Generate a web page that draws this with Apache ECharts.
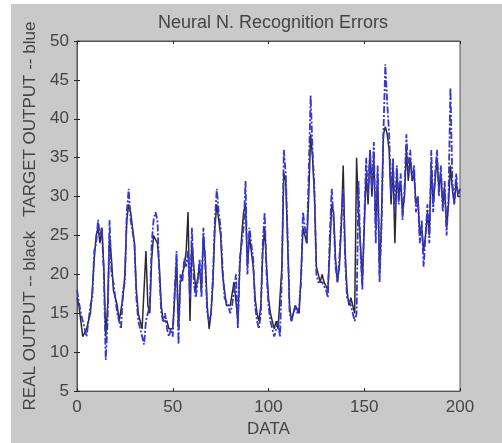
<!DOCTYPE html>
<html>
<head>
<meta charset="utf-8">
<script src="https://cdn.jsdelivr.net/npm/echarts@6/dist/echarts.min.js"></script>
<style>
html,body{margin:0;padding:0;background:#ffffff;width:502px;height:443px;overflow:hidden;}
#c{position:absolute;left:11px;top:4px;width:491px;height:439px;}
</style>
</head>
<body>
<div id="c"></div>
<script>
// Target output (blue, dash-dot), index 0..200
var targetOutput = [18,18,15,15,13,12,14,16,17,23,24,27,25,26,20,9,14,27,20,19,
17,15,14,13,18,19,28,31,27,27,24,17,14,13,13,11,14,15,16,24,
27,28,27,20,15,14,15,13,12,13,12,18,23,11,20,19,22,21,23,17,
26,19,17,19,22,17,26,21,15,14,15,20,27,31,28,26,21,17,17,16,
15,16,18,20,13,22,24,26,32,20,26,26,22,16,14,13,15,24,28,20,
16,14,13,12,13,14,12,20,36,33,25,15,14,15,16,15,16,19,28,26,
24,33,43,36,31,20,19,19,19,19,18,17,25,31,27,21,19,22,27,31,
22,17,17,16,15,14,15,32,23,18,27,35,30,36,31,37,24,34,19,26,
38,47,42,38,30,35,28,34,29,33,27,31,38,33,36,32,34,28,30,24,
27,21,25,29,24,36,28,33,36,30,34,28,32,25,30,44,32,29,33,30,31];
// Real output (black, solid), index 0..200
var realOutput = [17,16,14,12,12,13,13,15,18,22,25,26,24,26,21,12,16,25,22,18,
17,16,14,14,17,20,27,29,28,26,24,18,15,14,13,13,23,16,15,22,
25,25,24,21,16,14,14,14,13,13,13,17,22,13,19,20,21,23,28,14,
24,21,18,18,21,18,25,22,16,13,15,19,26,29,27,25,20,18,16,16,
16,16,19,19,14,21,25,28,29,21,25,25,21,17,15,14,16,23,26,21,
17,15,14,13,14,13,13,21,33,32,24,16,14,15,16,16,15,20,26,25,
24,30,38,35,30,21,20,19,20,19,19,18,23,29,28,22,19,21,26,34,
23,18,16,17,16,15,35,28,24,19,26,33,29,36,30,35,26,33,20,27,
38,39,38,36,29,34,24,33,30,32,28,30,36,32,35,32,33,29,30,25,
26,23,25,28,25,34,29,32,35,31,33,29,31,26,29,34,31,29,32,30,30];
var xTicks = [0, 50, 100, 150, 200];
var yTicks = [5, 10, 15, 20, 25, 30, 35, 40, 45, 50];

function pairs(arr){ return arr.map(function(v,i){ return [i, v]; }); }

var chart = echarts.init(document.getElementById('c'), null, {renderer:'canvas'});
var font = 'Liberation Sans, Arial, sans-serif';
var axisCol = '#555555';
var txtCol = '#444444';
chart.setOption({
  backgroundColor: '#c9c9c9',
  animation: false,
  title: {
    text: 'Neural N. Recognition Errors',
    left: 257, top: 5, textAlign: 'center',
    textStyle: {fontFamily: font, fontSize: 18, fontWeight: 'normal', color: txtCol}
  },
  grid: {left: 66, right: 42, top: 37, bottom: 49, show: true, backgroundColor: '#ffffff', borderColor: axisCol, borderWidth: 1},
  xAxis: [{
    type: 'value', min: xTicks[0], max: xTicks[xTicks.length-1], interval: 50,
    name: 'DATA', nameLocation: 'middle', nameGap: 29,
    nameTextStyle: {fontFamily: font, fontSize: 17, color: txtCol},
    axisLine: {show: true, lineStyle: {color: axisCol}},
    axisTick: {show: true, inside: true, length: 3, lineStyle: {color: '#222'}},
    axisLabel: {fontFamily: font, fontSize: 17, color: txtCol, margin: 8},
    splitLine: {show: false}
  },{
    type: 'value', position: 'top', min: 0, max: 200, interval: 50,
    axisLine: {show: true, lineStyle: {color: axisCol}},
    axisTick: {show: true, inside: true, length: 3, lineStyle: {color: '#222'}},
    axisLabel: {show: false}, splitLine: {show: false}
  }],
  yAxis: [{
    type: 'value', min: yTicks[0], max: yTicks[yTicks.length-1], interval: 5,
    name: 'REAL OUTPUT -- black   TARGET OUTPUT -- blue', nameLocation: 'middle', nameGap: 37,
    nameTextStyle: {fontFamily: font, fontSize: 17, color: txtCol},
    axisLine: {show: true, lineStyle: {color: axisCol}},
    axisTick: {show: true, inside: true, length: 3, lineStyle: {color: '#222'}},
    axisLabel: {fontFamily: font, fontSize: 17, color: txtCol, margin: 8},
    splitLine: {show: false}
  },{
    type: 'value', position: 'right', min: 5, max: 50, interval: 5,
    axisLine: {show: true, lineStyle: {color: axisCol}},
    axisTick: {show: true, inside: true, length: 3, lineStyle: {color: '#222'}},
    axisLabel: {show: false}, splitLine: {show: false}
  }],
  series: [{
    name: 'real', type: 'line', data: pairs(realOutput), showSymbol: false, symbol: 'none',
    lineStyle: {color: '#2a2a2a', width: 1.5}, z: 2
  },{
    name: 'target', type: 'line', data: pairs(targetOutput), showSymbol: false, symbol: 'none',
    lineStyle: {color: '#3535d8', width: 1.8, type: [7, 2, 2, 2]}, z: 3
  }]
});
</script>
</body>
</html>
